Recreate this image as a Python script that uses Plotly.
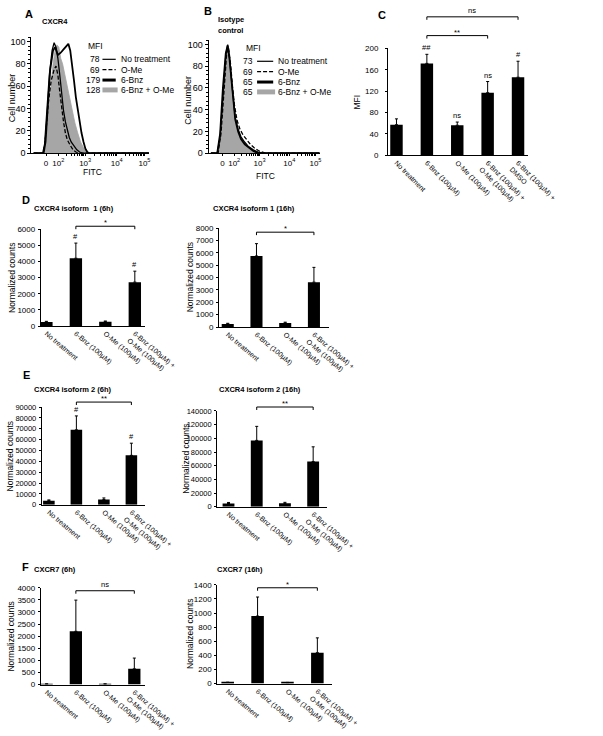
import math
import plotly.graph_objects as go

W, H = 603, 736
FONT = "Liberation Sans, Arial, sans-serif"


def X(px):
    return px / W


def Y(py):
    return 1 - py / H


# ---------------- DATA ----------------
# Panel A (CXCR4 flow histograms), x in display channel units, y in % of max
a_nt_x = [20, 97, 113, 129, 153, 177, 194, 210, 226, 242, 258, 274, 290, 306, 323, 339, 363, 387, 411, 435, 1000]
a_nt_y = [0, 0, 8, 35, 70, 92, 99, 95, 85, 70, 50, 38, 28, 20, 14, 10, 6, 3, 1, 0, 0]
a_ome_x = [20, 105, 121, 145, 169, 194, 210, 226, 242, 258, 274, 290, 306, 331, 355, 379, 403, 1000]
a_ome_y = [0, 0, 15, 45, 65, 75, 78, 70, 55, 40, 28, 18, 12, 7, 3, 1, 0, 0]
a_bnz_x = [20, 105, 121, 137, 161, 185, 202, 226, 250, 274, 298, 315, 331, 347, 363, 379, 395, 411, 427, 444, 460, 476, 492, 1000]
a_bnz_y = [0, 0, 10, 40, 75, 92, 95, 88, 90, 93, 96, 98, 92, 80, 65, 50, 38, 28, 18, 10, 4, 1, 0, 0]
a_combo_x = [20, 113, 137, 161, 185, 202, 218, 234, 250, 266, 282, 298, 323, 347, 371, 395, 419, 444, 468, 484, 1000]
a_combo_y = [0, 0, 25, 55, 80, 92, 97, 95, 85, 80, 72, 62, 50, 38, 27, 18, 10, 5, 1, 0, 0]
a_mfi = ["78", "69", "179", "128"]

# Panel B (isotype control)
b_nt_x = [20, 77, 103, 128, 154, 171, 188, 205, 222, 239, 265, 291, 325, 359, 402, 444, 496, 1000]
b_nt_y = [0, 0, 15, 55, 90, 100, 88, 68, 48, 33, 22, 15, 10, 6, 3, 1, 0, 0]
b_ome_x = [20, 85, 111, 137, 162, 179, 197, 214, 231, 256, 282, 308, 342, 376, 410, 453, 513, 1000]
b_ome_y = [0, 0, 18, 60, 92, 97, 82, 62, 45, 30, 22, 17, 12, 8, 5, 2, 0, 0]
b_bnz_x = [20, 77, 103, 128, 154, 171, 188, 205, 222, 239, 265, 291, 325, 359, 402, 444, 1000]
b_bnz_y = [0, 0, 18, 60, 92, 99, 86, 65, 45, 31, 20, 13, 8, 5, 2, 0, 0]
b_combo_x = [20, 85, 111, 137, 154, 171, 188, 205, 222, 239, 265, 291, 325, 359, 402, 444, 1000]
b_combo_y = [0, 0, 15, 60, 88, 98, 85, 65, 45, 30, 20, 13, 8, 5, 2, 0, 0]
b_mfi = ["73", "69", "65", "65"]

legend_names = ["No treatment", "O-Me", "6-Bnz", "6-Bnz + O-Me"]
flow_tick_vals = [125, 230, 458, 726, 962]
flow_tick_text = ["0", "10<sup>2</sup>", "10<sup>3</sup>", "10<sup>4</sup>", "10<sup>5</sup>"]

# Panel C (MFI)
c_categories = ["No treatment", "6-Bnz (100µM)", "O-Me (100µM)",
                "6-Bnz (100µM) +<br>O-Me (100µM)", "6-Bnz (100µM) +<br>DMSO"]
c_values = [57, 172, 56, 117, 146]
c_errors = [11, 17, 6, 21, 30]
c_marks = ["", "##", "ns", "ns", "#"]

# Panels D-F (normalized counts)
q_categories = ["No treatment", "6-Bnz (100µM)", "O-Me (100µM)", "6-Bnz (100µM) +<br>O-Me (100µM)"]
d6_values = [250, 4200, 270, 2720]
d6_errors = [40, 940, 40, 680]
d6_marks = ["", "#", "", "#"]
d16_values = [250, 5750, 330, 3630]
d16_errors = [50, 1000, 60, 1200]
e6_values = [3800, 69000, 4800, 45500]
e6_errors = [700, 12800, 1500, 11200]
e6_marks = ["", "#", "", "#"]
e16_values = [4800, 97000, 5000, 66000]
e16_errors = [1500, 20500, 1500, 21600]
f6_values = [20, 2200, 20, 650]
f6_errors = [10, 1290, 10, 445]
f16_values = [15, 957, 12, 438]
f16_errors = [5, 270, 5, 210]
no_marks = ["", "", "", ""]

# ---------------- FIGURE ----------------
fig = go.Figure()
layout = dict(
    width=W, height=H, margin=dict(l=0, r=0, t=0, b=0),
    paper_bgcolor="white", plot_bgcolor="white", showlegend=False,
    font=dict(family=FONT, color="black", size=8),
)
annotations = []
shapes = []


def ax_names(n):
    return ("x" if n == 1 else f"x{n}"), ("y" if n == 1 else f"y{n}")


def lay_names(n):
    return ("xaxis" if n == 1 else f"xaxis{n}"), ("yaxis" if n == 1 else f"yaxis{n}")


def text(px, py, s, size=8, bold=False, xanchor="left", yanchor="middle", angle=0):
    annotations.append(dict(
        x=X(px), y=Y(py), xref="paper", yref="paper", text=f"<b>{s}</b>" if bold else s,
        showarrow=False, xanchor=xanchor, yanchor=yanchor, textangle=angle, borderpad=0,
        font=dict(size=size, family=FONT, color="black")))


def seg(x0, y0, x1, y1, width=1, dash="solid"):
    shapes.append(dict(type="line", xref="paper", yref="paper", x0=X(x0), y0=Y(y0),
                       x1=X(x1), y1=Y(y1), line=dict(color="black", width=width, dash=dash)))


minor_flow = []
decades = [(230, 458), (458, 726), (726, 962)]
for lo, hi in decades:
    for k in range(2, 10):
        minor_flow.append(lo + (hi - lo) * math.log10(k))


def flow_panel(n, xdom, ydom, series, mfi, legend_pos):
    xa, ya = ax_names(n)
    xl, yl = lay_names(n)
    (nt_x, nt_y), (ome_x, ome_y), (bnz_x, bnz_y), (cb_x, cb_y) = series
    fig.add_trace(go.Scatter(x=cb_x, y=cb_y, xaxis=xa, yaxis=ya, mode="lines", fill="tozeroy",
                             fillcolor="#a6a6a6", line=dict(color="#a6a6a6", width=0.8)))
    fig.add_trace(go.Scatter(x=nt_x, y=nt_y, xaxis=xa, yaxis=ya, mode="lines",
                             line=dict(color="black", width=1.3)))
    fig.add_trace(go.Scatter(x=ome_x, y=ome_y, xaxis=xa, yaxis=ya, mode="lines",
                             line=dict(color="black", width=1.3, dash="4px,2px")))
    fig.add_trace(go.Scatter(x=bnz_x, y=bnz_y, xaxis=xa, yaxis=ya, mode="lines",
                             line=dict(color="black", width=1.8)))
    layout[xl] = dict(domain=[X(xdom[0]), X(xdom[1])], anchor=ya, range=[0, 1000],
                      showline=True, linecolor="black", linewidth=1, ticks="outside",
                      ticklen=2, tickcolor="black", showgrid=False, zeroline=False,
                      tickmode="array", tickvals=flow_tick_vals, ticktext=flow_tick_text,
                      tickfont=dict(size=8, family=FONT, color="black"),
                      minor=dict(tickmode="array", tickvals=minor_flow, ticks="outside",
                                 ticklen=2, tickcolor="black"))
    layout[yl] = dict(domain=[Y(ydom[1]), Y(ydom[0])], anchor=xa, range=[0, 104],
                      showline=True, linecolor="black", linewidth=1, ticks="outside",
                      ticklen=3, tickcolor="black", showgrid=False, zeroline=False,
                      tickmode="array", tickvals=[0, 20, 40, 60, 80, 100],
                      tickfont=dict(size=9, family=FONT, color="black"),
                      minor=dict(dtick=4, ticks="outside", ticklen=2, tickcolor="black"))
    mx, nx, l0, l1, tx, rows = legend_pos
    text(mx, rows[0] - 13, "MFI", size=8.5)
    for i, (val, name) in enumerate(zip(mfi, legend_names)):
        r = rows[i]
        text(nx, r, val, size=8.5, xanchor="right")
        text(tx, r, name, size=8.5)
        if i == 0:
            seg(l0, r, l1, r, width=1.2)
        elif i == 1:
            seg(l0, r, l1, r, width=1.2, dash="4px,2px")
        elif i == 2:
            seg(l0, r, l1, r, width=3)
        else:
            shapes.append(dict(type="rect", xref="paper", yref="paper", x0=X(l0), x1=X(l1 + 2),
                               y0=Y(r + 2.5), y1=Y(r - 2.5), fillcolor="#a6a6a6",
                               line=dict(width=0)))


flow_panel(1, (33, 157), (33.5, 151),
           [(a_nt_x, a_nt_y), (a_ome_x, a_ome_y), (a_bnz_x, a_bnz_y), (a_combo_x, a_combo_y)],
           a_mfi, (92, 106, 108, 122, 127, [56, 66.5, 77, 87]))
flow_panel(2, (220, 337), (36.6, 151),
           [(b_nt_x, b_nt_y), (b_ome_x, b_ome_y), (b_bnz_x, b_bnz_y), (b_combo_x, b_combo_y)],
           b_mfi, (258, 268, 271, 288, 292, [58, 68.5, 79, 89]))

text(25, 10, "A", size=11, bold=True)
text(43, 18, "CXCR4", size=7.5, bold=True)
text(13, 95, "Cell number", size=9, xanchor="center", angle=-90)
text(97, 170, "FITC", size=8.5, xanchor="center")
text(214, 7, "B", size=11, bold=True)
text(243, 16, "Isotype", size=7.5, bold=True, xanchor="center")
text(243, 27, "control", size=7.5, bold=True, xanchor="center")
text(198, 97, "Cell number", size=9, xanchor="center", angle=-90)
text(280, 174, "FITC", size=8.5, xanchor="center")


def bar_panel(n, xdom, ydom, xr, yr, dtick, cats, vals, errs, marks, angle, bw,
              brackets, ytitle, ytitle_x, tick_size=8, standoff=1):
    xa, ya = ax_names(n)
    xl, yl = lay_names(n)
    idx = list(range(len(cats)))
    fig.add_trace(go.Bar(x=idx, y=vals, xaxis=xa, yaxis=ya, width=bw,
                         marker=dict(color="black", line=dict(width=0)),
                         error_y=dict(type="data", array=errs, arrayminus=[0] * len(errs),
                                      symmetric=False, color="black", thickness=1, width=1.5)))
    layout[xl] = dict(domain=[X(xdom[0]), X(xdom[1])], anchor=ya, range=xr,
                      showline=True, linecolor="black", linewidth=1, ticks="",
                      showgrid=False, zeroline=False, tickmode="array", tickvals=idx,
                      ticktext=cats, tickangle=angle,
                      tickfont=dict(size=7, family=FONT, color="black"))
    layout[yl] = dict(domain=[Y(ydom[1]), Y(ydom[0])], anchor=xa, range=yr, dtick=dtick,
                      showline=True, linecolor="black", linewidth=1, ticks="outside",
                      ticklen=2, tickcolor="black", showgrid=False, zeroline=False,
                      ticklabelstandoff=standoff,
                      tickfont=dict(size=tick_size, family=FONT, color="black"),
                      tickformat="d")
    for i, m in enumerate(marks):
        if m:
            annotations.append(dict(x=i, y=vals[i] + errs[i], xref=xa, yref=ya, text=m,
                                    showarrow=False, yanchor="bottom", yshift=1, borderpad=0,
                                    font=dict(size=7.5, family=FONT, color="black")))
    for (i0, i1, s, py) in brackets:
        shapes.append(dict(type="path", xref=xa, yref="paper",
                           path=f"M {i0},{Y(py + 3)} L {i0},{Y(py)} L {i1},{Y(py)} L {i1},{Y(py + 3)}",
                           line=dict(color="black", width=1)))
        shift = -3 if s.startswith("*") else 0
        annotations.append(dict(x=(i0 + i1) / 2, y=Y(py - 1), xref=xa, yref="paper", text=s,
                                showarrow=False, yanchor="bottom", yshift=shift, borderpad=0,
                                font=dict(size=7.5, family=FONT, color="black")))
    cy = (ydom[0] + ydom[1]) / 2
    text(ytitle_x, cy, ytitle, size=8.5, xanchor="center", angle=-90)


bar_panel(3, (409, 557), (45, 153), [-0.28, 4.34], [0, 200], 40, c_categories, c_values,
          c_errors, c_marks, 45, 0.41, [(1, 3, "**", 32), (1, 4, "ns", 13)], "MFI", 376,
          standoff=5)
text(397, 11, "C", size=11, bold=True)

NC = "Normalized counts"
bar_panel(4, (43, 153), (228, 326), [-0.19, 3.35], [0, 6000], 1000, q_categories, d6_values,
          d6_errors, d6_marks, 40, 0.42, [(1, 3, "*", 225)], NC, 12)
bar_panel(5, (231, 347), (227, 327), [-0.3, 3.53], [0, 8000], 1000, q_categories, d16_values,
          d16_errors, no_marks, 40, 0.42, [(1, 3, "*", 231)], NC, 200)
bar_panel(6, (44, 153), (408, 507), [-0.26, 3.5], [0, 90000], 10000, q_categories, e6_values,
          e6_errors, e6_marks, 40, 0.42, [(1, 3, "**", 403)], NC, 10, tick_size=7.5)
bar_panel(7, (229, 345), (412, 509), [-0.4, 3.5], [0, 140000], 20000, q_categories, e16_values,
          e16_errors, no_marks, 40, 0.42, [(1, 3, "**", 408)], NC, 196, tick_size=7.5)
bar_panel(8, (43, 153), (591, 689), [-0.2, 3.37], [0, 4000], 500, q_categories, f6_values,
          f6_errors, no_marks, 40, 0.42, [(1, 3, "ns", 594)], NC, 12)
bar_panel(9, (229, 350), (588, 688), [-0.35, 3.49], [0, 1400], 200, q_categories, f16_values,
          f16_errors, no_marks, 40, 0.42, [(1, 3, "*", 591)], NC, 200)

text(22, 198, "D", size=11, bold=True)
text(35, 207, "CXCR4 isoform  1 (6h)", size=7.5, bold=True)
text(224, 207, "CXCR4 isoform 1 (16h)", size=7.5, bold=True)
text(23, 376, "E", size=11, bold=True)
text(35, 390, "CXCR4 isoform 2 (6h)", size=7.5, bold=True)
text(230, 390, "CXCR4 isoform 2 (16h)", size=7.5, bold=True)
text(22, 570, "F", size=11, bold=True)
text(35, 572, "CXCR7 (6h)", size=7.5, bold=True)
text(228, 572, "CXCR7 (16h)", size=7.5, bold=True)

layout["annotations"] = annotations
layout["shapes"] = shapes
fig.update_layout(**layout)
fig.write_html("out.html", config={"displayModeBar": False},
               post_script="document.body.style.margin='0px';")
